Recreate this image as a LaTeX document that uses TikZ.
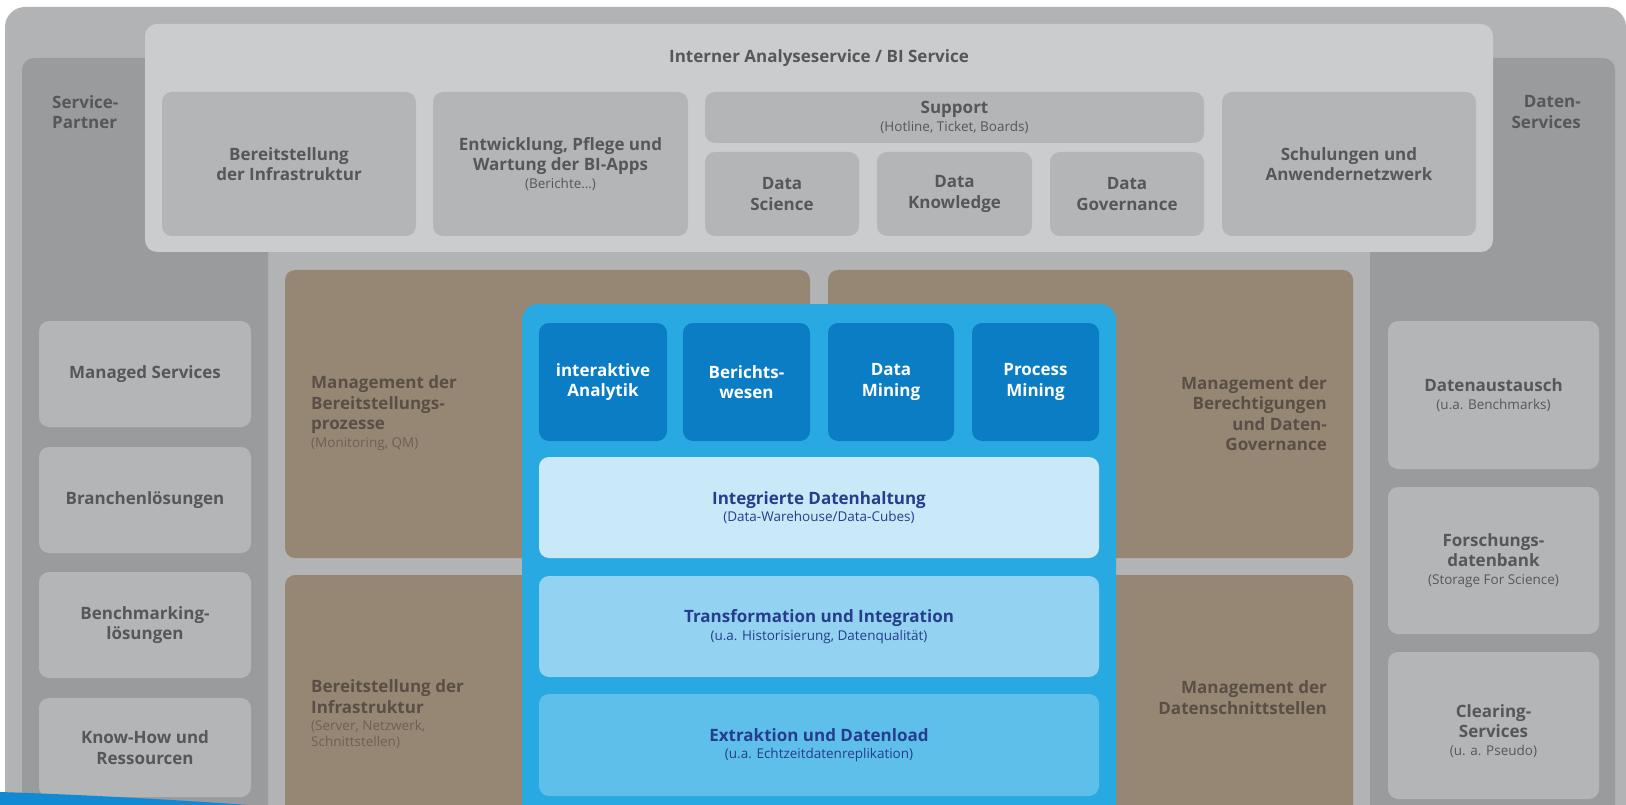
\documentclass[tikz,border=0pt]{standalone}
\usepackage{fontspec}
\setmainfont{Open Sans}
\definecolor{outerbg}{HTML}{B2B3B4}
\definecolor{darkcol}{HTML}{9A9B9D}
\definecolor{toppanel}{HTML}{CBCCCE}
\definecolor{graybox}{HTML}{B4B5B7}
\definecolor{brownbox}{HTML}{968674}
\definecolor{graytext}{HTML}{55575A}
\definecolor{browntext}{HTML}{5A4F46}
\definecolor{brownsub}{HTML}{6C6157}
\definecolor{bluepanel}{HTML}{29A9E1}
\definecolor{bluetile}{HTML}{0A7DC5}
\definecolor{layA}{HTML}{C9E9F9}
\definecolor{layB}{HTML}{93D3F1}
\definecolor{layC}{HTML}{5EBFEA}
\definecolor{navy}{HTML}{263D8C}
\definecolor{swooshblue}{HTML}{118AD3}
\newcommand\mysub[1]{{\fontsize{13.5}{16}\selectfont\mdseries #1}}
\newcommand\mkbox[7]{\node[#1, minimum width={(#5-#3)*1pt}, minimum height={(#6-#4)*1pt}] (#2) at ({(#3+#5)/2},{(#4+#6)/2}) {#7};}
\tikzset{
  area/.style={fill=#1, draw=none, rounded corners=12pt, inner sep=0pt, align=center},
  hd/.style={font=\fontsize{17}{20.5}\selectfont\bfseries},
  tbox/.style={area=graybox, hd, text=graytext, rounded corners=10pt},
  sbox/.style={area=graybox, hd, text=graytext, rounded corners=10pt},
  brownarea/.style={area=brownbox, rounded corners=10pt},
  browntxt/.style={hd, text=browntext, inner sep=0pt},
  tile/.style={area=bluetile, hd, text=white, rounded corners=10pt},
  layer/.style={area=#1, hd, text=navy, rounded corners=10pt},
  sidelabel/.style={hd, text=graytext, inner sep=0pt}
}
\begin{document}
\begin{tikzpicture}[x=1pt,y=-1pt]
\useasboundingbox (0,0) rectangle (1626,805);
\clip (0,0) rectangle (1626,805);
\fill[white] (0,0) rectangle (1626,805);
\mkbox{area=outerbg, rounded corners=20pt}{outer}{5}{7}{1626}{860}{}
% side columns
\mkbox{area=darkcol}{spcol}{22}{58}{268}{860}{}
\mkbox{area=darkcol}{dscol}{1370}{58}{1615}{860}{}
% top panel
\mkbox{area=toppanel}{top}{145}{24}{1493}{252}{}
\node[hd, text=graytext] (title) at (819,58) {Interner Analyseservice / BI Service};
\mkbox{tbox}{infra}{162}{92}{416}{236}{Bereitstellung\\der Infrastruktur}
\mkbox{tbox}{dev}{433}{92}{688}{236}{Entwicklung, Pflege und\\Wartung der BI-Apps\\[-3pt]\mysub{(Berichte…)}}
\mkbox{tbox}{support}{705}{92}{1204}{143}{Support\\[-3pt]\mysub{(Hotline, Ticket, Boards)}}
\mkbox{tbox}{dsci}{705}{152}{859}{236}{Data\\Science}
\mkbox{tbox}{dknow}{877}{152}{1032}{236}{Data\\Knowledge}
\mkbox{tbox}{dgov}{1050}{152}{1204}{236}{Data\\Governance}
\mkbox{tbox}{schul}{1222}{92}{1476}{236}{Schulungen und\\Anwendernetzwerk}
% side labels
\node[sidelabel, align=left, anchor=west] (splabel) at (52,112) {Service-\\Partner};
\node[sidelabel, align=right, anchor=east] (dslabel) at (1581,112) {Daten-\\Services};
% left boxes
\mkbox{sbox}{managed}{39}{321}{251}{427}{Managed Services}
\mkbox{sbox}{branch}{39}{447}{251}{553}{Branchenlösungen}
\mkbox{sbox}{bench}{39}{572}{251}{678}{Benchmarking-\\lösungen}
\mkbox{sbox}{know}{39}{698}{251}{797}{Know-How und\\Ressourcen}
% right boxes
\mkbox{sbox}{austausch}{1388}{321}{1599}{469}{Datenaustausch\\[-3pt]\mysub{(u.a. Benchmarks)}}
\mkbox{sbox}{forsch}{1388}{487}{1599}{634}{Forschungs-\\datenbank\\[-3pt]\mysub{(Storage For Science)}}
\mkbox{sbox}{clear}{1388}{652}{1599}{799}{}
\node[hd, text=graytext, align=center] (cleartxt) at (1493.5,731) {Clearing-\\Services\\[-3pt]\mysub{(u. a. Pseudo)}};
% brown areas
\mkbox{brownarea}{bmA}{285}{270}{810}{558}{}
\mkbox{brownarea}{bmB}{828}{270}{1353}{558}{}
\mkbox{brownarea}{bmC}{285}{575}{810}{860}{}
\mkbox{brownarea}{bmD}{828}{575}{1353}{860}{}
\node[browntxt, align=left, anchor=west] (bmAtxt) at (311,413) {Management der\\Bereitstellungs-\\prozesse\\[-3pt]{\color{brownsub}\mysub{(Monitoring, QM)}}};
\node[browntxt, align=right, anchor=east] (bmBtxt) at (1327,413.5) {Management der\\Berechtigungen\\und Daten-\\Governance};
\node[browntxt, align=left, anchor=west] (bmCtxt) at (311,714) {Bereitstellung der\\Infrastruktur\\[-3pt]{\color{brownsub}\mysub{(Server, Netzwerk,}}\\[-5pt]{\color{brownsub}\mysub{Schnittstellen)}}};
\node[browntxt, align=right, anchor=east] (bmDtxt) at (1327,697.5) {Management der\\Datenschnittstellen};
% blue core
\mkbox{area=bluepanel, rounded corners=16pt}{core}{522}{304}{1116}{870}{}
\mkbox{tile}{tileA}{539}{323}{667}{441}{interaktive\\Analytik}
\mkbox{tile}{tileB}{683}{323}{810}{441}{Berichts-\\wesen}
\mkbox{tile}{tileC}{828}{323}{954}{441}{Data\\Mining}
\mkbox{tile}{tileD}{972}{323}{1099}{441}{Process\\Mining}
\mkbox{layer=layA}{layerA}{539}{457}{1099}{558}{Integrierte Datenhaltung\\[-3pt]\mysub{(Data-Warehouse/Data-Cubes)}}
\mkbox{layer=layB}{layerB}{539}{576}{1099}{677}{Transformation und Integration\\[-3pt]\mysub{(u.a. Historisierung, Datenqualität)}}
\mkbox{layer=layC}{layerC}{539}{694}{1099}{796}{Extraktion und Datenload\\[-3pt]\mysub{(u.a. Echtzeitdatenreplikation)}}
% swoosh
\fill[swooshblue] (0,792) .. controls (90,795) and (180,800) .. (262,806) -- (0,806) -- cycle;
\end{tikzpicture}
\end{document}
